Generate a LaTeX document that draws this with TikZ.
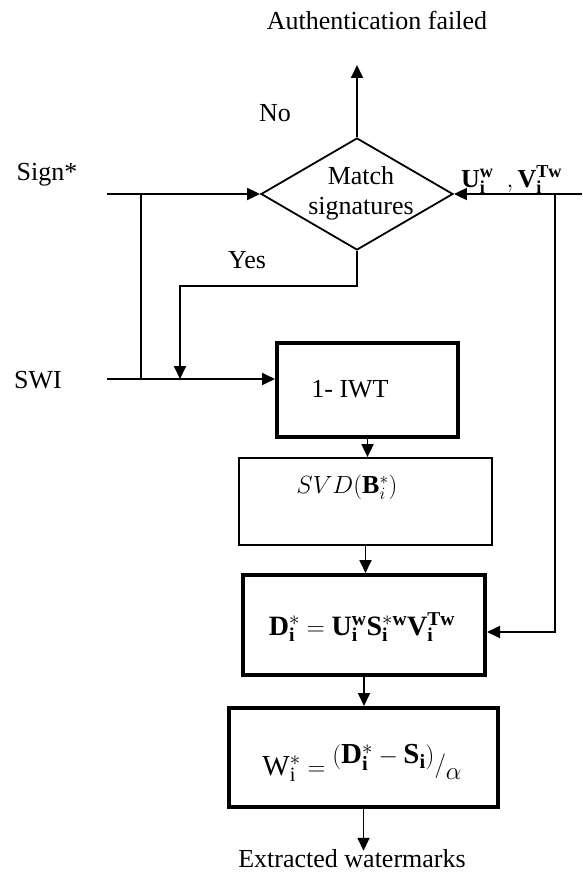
\documentclass[tikz,border=0pt]{standalone}
\usepackage{fontspec}
\setmainfont{Liberation Serif}
\usetikzlibrary{shapes.geometric,arrows.meta}
\begin{document}
\begin{tikzpicture}[x=1pt,y=-1pt,
  txt/.style={font=\fontsize{26}{30}\selectfont, inner sep=0pt},
  conn/.style={line width=1.8pt},
  arr/.style={conn,-{Triangle[length=13pt,width=12pt]}},
  thickbox/.style={draw,line width=4pt,inner sep=0pt},
  thinbox/.style={draw,line width=1.8pt,inner sep=0pt},
]
\useasboundingbox (0,0) rectangle (582,872);
% decision
\node[diamond, draw, line width=1.8pt, minimum width=192pt, minimum height=112pt, inner sep=0pt] (dec) at (357,194) {};
\node[txt, align=center] (dectxt) at (361,193) {Match\\signatures};
\node[txt] (fail) at (377,20) {Authentication failed};
\coordinate (failtip) at (357,65);
\draw[arr] (dec.north) -- (failtip);
\node[txt] (no) at (275,113) {No};
% inputs
\node[txt] (sign) at (47,175) {Sign*};
\node[txt] (swi) at (38,380) {SWI};
\coordinate (signstart) at (107,194);
\coordinate (swistart) at (107,379);
\coordinate (tap) at (141,194);
\coordinate (tapb) at (141,379);
\draw[arr] (signstart) -- (dec.west);
\draw[conn] (tap) -- (tapb);
% IWT
\node[thickbox, minimum width=181pt, minimum height=94pt] (iwt) at (367.5,390) {};
\node[txt] (iwttxt) at (350,389) {1- IWT};
\draw[arr] (swistart) -- (swistart -| iwt.west);
% yes branch
\coordinate (yesc) at (180,286);
\draw[arr] (dec.south) |- (yesc) -- (yesc |- swistart);
\node[txt] (yes) at (247,260) {Yes};
% SVD
\node[thinbox, minimum width=253pt, minimum height=87pt] (svd) at (365.5,501.5) {};
\node[txt] (svdtxt) at (347,487) {$SVD(\mathbf{B}_i^*)$};
\draw[arr] (iwt.south) -- (iwt.south |- svd.north);
% D box
\node[thickbox, minimum width=242pt, minimum height=100pt] (dbox) at (364,625) {};
\node[txt, font=\fontsize{28}{32}\selectfont, anchor=base] (dtxt) at (362,635) {$\mathbf{D}_{\mathbf{i}}^{*} = \mathbf{U}_{\mathbf{i}}^{\mathbf{w}}\mathbf{S}_{\mathbf{i}}^{*\mathbf{w}}\mathbf{V}_{\mathbf{i}}^{\mathbf{Tw}}$};
\draw[arr] (svd.south) -- (svd.south |- dbox.north);
% W box
\node[thickbox, minimum width=269pt, minimum height=99pt] (wbox) at (363.5,757.5) {};
\node[txt, font=\fontsize{29}{33}\selectfont, anchor=base] (wtxt) at (362,775) {$\mathrm{W}_{\mathrm{i}}^{*} = \raisebox{0.4em}{$(\mathbf{D}_{\mathbf{i}}^{*} - \mathbf{S}_{\mathbf{i}})$}\raisebox{0.1em}{$\Big/$}\lower0.15em\hbox{$\alpha$}$};
\draw[arr] (dbox.south) -- (dbox.south |- wbox.north);
% output
\node[txt, anchor=base] (ext) at (352,867) {Extracted watermarks};
\draw[arr] (wbox.south) -- ([yshift=-2pt]wbox.south |- ext.north);
% right feed
\coordinate (rin) at (582,194);
\coordinate (rtap) at (555,194);
\coordinate (rbot) at (555,632);
\draw[arr] (rin) -- (dec.east);
\draw[arr] (rtap) -- (rbot) -- (rbot -| dbox.east);
\node[txt, anchor=base west] (uv) at (461,187) {$\mathbf{U}_{\mathbf{i}}^{\mathbf{w}}\ \ ,\mathbf{V}_{\mathbf{i}}^{\mathbf{Tw}}$};
\end{tikzpicture}
\end{document}
